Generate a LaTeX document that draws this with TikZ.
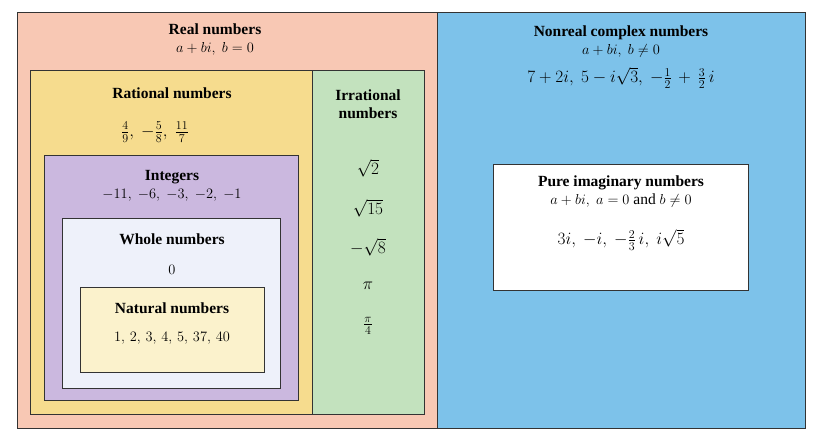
\documentclass[tikz,border=0pt]{standalone}
\usepackage{fontspec}
\setmainfont{Liberation Serif}
\usepackage{amsmath}
\begin{document}
\begin{tikzpicture}[x=1pt,y=-1pt,
  bx/.style={draw=black!80,line width=0.8pt},
  lab/.style={font=\fontsize{15.5}{18}\selectfont,align=center,inner sep=1pt},
  mlab/.style={font=\fontsize{17}{20}\selectfont,align=center,inner sep=1pt}]
\useasboundingbox (0,0) rectangle (821,440);
\definecolor{realc}{HTML}{F8C8B4}
\definecolor{cplx}{HTML}{7DC2EA}
\definecolor{ratc}{HTML}{F6DC8E}
\definecolor{irrc}{HTML}{C3E2BE}
\definecolor{intc}{HTML}{CBB8DF}
\definecolor{whc}{HTML}{EEF1FA}
\definecolor{natc}{HTML}{FBF2CC}
\fill[white] (0,0) rectangle (821,440);
\draw[bx,fill=realc] (17,12) rectangle (437,428);
\draw[bx,fill=cplx] (437,12) rectangle (805,428);
\draw[bx,fill=ratc] (30,70) rectangle (312,414);
\draw[bx,fill=irrc] (312,70) rectangle (424,414);
\draw[bx,fill=intc] (44,155) rectangle (298,400);
\draw[bx,fill=whc] (62,218) rectangle (280,388);
\draw[bx,fill=natc] (80,287) rectangle (264,372);
\draw[bx,fill=white] (493,164) rectangle (748,290);

\node[lab] (real) at (215,40) {\textbf{Real numbers}\\ $a+bi,\ b=0$};
\node[lab] (rat) at (172,93) {\textbf{Rational numbers}};
\node[mlab] (ratv) at (155,132) {$\frac{4}{9},\ -\frac{5}{8},\ \frac{11}{7}$};
\node[lab] (irr) at (368,104) {\textbf{Irrational}\\ \textbf{numbers}};
\node[mlab] (s2) at (368,168) {$\sqrt{2}$};
\node[mlab] (s15) at (368,208) {$\sqrt{15}$};
\node[mlab] (s8) at (368,247) {$-\sqrt{8}$};
\node[mlab] (pi) at (368,286) {$\pi$};
\node[mlab] (pi4) at (368,326) {$\frac{\pi}{4}$};
\node[lab] (int) at (172,186) {\textbf{Integers}\\ $-11,\ -6,\ -3,\ -2,\ -1$};
\node[lab] (wh) at (172,239) {\textbf{Whole numbers}};
\node[lab] (zero) at (172,270) {$0$};
\node[lab] (nat) at (172,308) {\textbf{Natural numbers}};
\node[lab] (natv) at (172,338) {$1,\,2,\,3,\,4,\,5,\,37,\,40$};
\node[lab] (nc) at (621,42) {\textbf{Nonreal complex numbers}\\ $a+bi,\ b\neq 0$};
\node[mlab] (ncv) at (621,78) {$7+2i,\ 5-i\sqrt{3},\ -\frac{1}{2}\,+\,\frac{3}{2}\,i$};
\node[lab] (pim) at (621,192) {\textbf{Pure imaginary numbers}\\ $a+bi,\ a=0$ and $b\neq 0$};
\node[mlab] (pimv) at (621,240) {$3i,\ -i,\ -\frac{2}{3}\,i,\ i\sqrt{5}$};
\end{tikzpicture}
\end{document}
